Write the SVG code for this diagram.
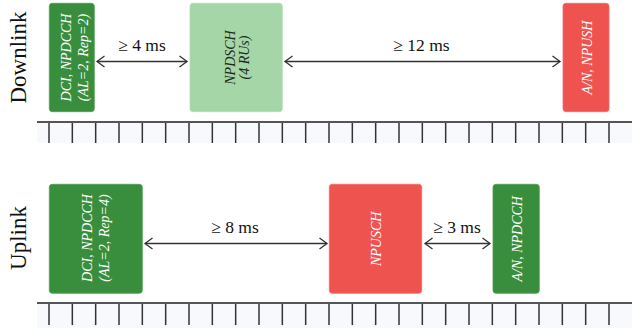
<svg xmlns="http://www.w3.org/2000/svg" width="632" height="328" viewBox="0 0 632 328">
  <defs>
    <style>
      .side { font-family: "Liberation Serif", "Times New Roman", serif; font-size: 23px; fill: #111; }
      .gap { font-family: "Liberation Serif", "Times New Roman", serif; font-size: 17.5px; fill: #111; text-anchor: middle; }
      .lbl { font-family: "Liberation Serif", "Times New Roman", serif; font-style: italic; font-size: 14px; text-anchor: middle; }
      .lbl-w { fill: #ffffff; }
      .lbl-d { fill: #1e2a1e; }
      .dark { fill: #388e3c; stroke: #4f9d52; stroke-width: 0.8; }
      .light { fill: #a5d6a7; stroke: #b3dcb4; stroke-width: 0.8; }
      .red { fill: #ef5350; stroke: #f26a67; stroke-width: 0.8; }
      .band { fill: #f7f9fd; }
      .axis { stroke: #555; stroke-width: 2; }
      .tick { stroke: #333; stroke-width: 1.5; }
      .conn { stroke: #333; stroke-width: 1.3; fill: none; marker-start: url(#chev); marker-end: url(#chev); }
    </style>
    <marker id="chev" markerUnits="userSpaceOnUse" viewBox="-9 -7 11 14" markerWidth="11" markerHeight="14" refX="0" refY="0" orient="auto-start-reverse">
      <path d="M -7.5 -5.5 L 0 0 L -7.5 5.5" fill="none" stroke="#333" stroke-width="1.3"/>
    </marker>
    <g id="ticks">
      <line class="tick" x1="49" y1="0" x2="49" y2="21"/>
      <line class="tick" x1="72.33" y1="0" x2="72.33" y2="21"/>
      <line class="tick" x1="95.67" y1="0" x2="95.67" y2="21"/>
      <line class="tick" x1="119" y1="0" x2="119" y2="21"/>
      <line class="tick" x1="142.33" y1="0" x2="142.33" y2="21"/>
      <line class="tick" x1="165.67" y1="0" x2="165.67" y2="21"/>
      <line class="tick" x1="189" y1="0" x2="189" y2="21"/>
      <line class="tick" x1="212.33" y1="0" x2="212.33" y2="21"/>
      <line class="tick" x1="235.67" y1="0" x2="235.67" y2="21"/>
      <line class="tick" x1="259" y1="0" x2="259" y2="21"/>
      <line class="tick" x1="282.33" y1="0" x2="282.33" y2="21"/>
      <line class="tick" x1="305.67" y1="0" x2="305.67" y2="21"/>
      <line class="tick" x1="329" y1="0" x2="329" y2="21"/>
      <line class="tick" x1="352.33" y1="0" x2="352.33" y2="21"/>
      <line class="tick" x1="375.67" y1="0" x2="375.67" y2="21"/>
      <line class="tick" x1="399" y1="0" x2="399" y2="21"/>
      <line class="tick" x1="422.33" y1="0" x2="422.33" y2="21"/>
      <line class="tick" x1="445.67" y1="0" x2="445.67" y2="21"/>
      <line class="tick" x1="469" y1="0" x2="469" y2="21"/>
      <line class="tick" x1="492.33" y1="0" x2="492.33" y2="21"/>
      <line class="tick" x1="515.67" y1="0" x2="515.67" y2="21"/>
      <line class="tick" x1="539" y1="0" x2="539" y2="21"/>
      <line class="tick" x1="562.33" y1="0" x2="562.33" y2="21"/>
      <line class="tick" x1="585.67" y1="0" x2="585.67" y2="21"/>
      <line class="tick" x1="609" y1="0" x2="609" y2="21"/>
    </g>
  </defs>

  <rect width="632" height="328" fill="#ffffff"/>

  <!-- lane titles -->
  <text class="side" transform="translate(25.5 57.5) rotate(-90)" text-anchor="middle">Downlink</text>
  <text class="side" transform="translate(25.5 238) rotate(-90)" text-anchor="middle">Uplink</text>

  <!-- downlink time axis -->
  <g id="axis-dl">
    <rect class="band" x="37" y="122" width="595" height="21"/>
    <use href="#ticks" transform="translate(0 122)"/>
    <line class="axis" x1="37" y1="122" x2="632" y2="122"/>
  </g>

  <!-- uplink time axis -->
  <g id="axis-ul">
    <rect class="band" x="37" y="303" width="595" height="25"/>
    <use href="#ticks" transform="translate(0 303) scale(1 1.05)"/>
    <line class="axis" x1="37" y1="303" x2="632" y2="303"/>
  </g>

  <!-- downlink nodes -->
  <g id="dl-dci">
    <rect class="dark" x="49.3" y="3.3" width="45" height="108.4" rx="3"/>
    <text class="lbl lbl-w" transform="translate(71 57.5) rotate(-90)">DCI, NPDCCH</text>
    <text class="lbl lbl-w" transform="translate(87.5 57.5) rotate(-90)">(AL=2, Rep=2)</text>
  </g>
  <g id="dl-npdsch">
    <rect class="light" x="190" y="3.3" width="92.3" height="108.4" rx="3"/>
    <text class="lbl lbl-d" transform="translate(235 57.5) rotate(-90)">NPDSCH</text>
    <text class="lbl lbl-d" transform="translate(248.5 57.5) rotate(-90)">(4 RUs)</text>
  </g>
  <g id="dl-ack">
    <rect class="red" x="563" y="3.3" width="46" height="108.4" rx="3"/>
    <text class="lbl lbl-w" transform="translate(591.5 57.5) rotate(-90)">A/N, NPUSH</text>
  </g>

  <!-- uplink nodes -->
  <g id="ul-dci">
    <rect class="dark" x="49.3" y="184.3" width="93" height="109" rx="3"/>
    <text class="lbl lbl-w" transform="translate(91.5 238) rotate(-90)">DCI, NPDCCH</text>
    <text class="lbl lbl-w" transform="translate(109 238) rotate(-90)">(AL=2, Rep=4)</text>
  </g>
  <g id="ul-npusch">
    <rect class="red" x="329.3" y="184.3" width="92.4" height="109" rx="3"/>
    <text class="lbl lbl-w" transform="translate(380.5 238.8) rotate(-90)">NPUSCH</text>
  </g>
  <g id="ul-ack">
    <rect class="dark" x="493" y="184.3" width="46.3" height="109" rx="3"/>
    <text class="lbl lbl-w" transform="translate(521.5 238.8) rotate(-90)">A/N, NPDCCH</text>
  </g>

  <!-- timing gaps -->
  <g id="connectors">
    <line class="conn" x1="97" y1="61.5" x2="187" y2="61.5"/>
    <line class="conn" x1="285" y1="61.5" x2="560" y2="61.5"/>
    <line class="conn" x1="145" y1="243.5" x2="327" y2="243.5"/>
    <line class="conn" x1="425" y1="243.5" x2="490" y2="243.5"/>
    <text class="gap" x="142" y="51">≥ 4 ms</text>
    <text class="gap" x="421.5" y="51">≥ 12 ms</text>
    <text class="gap" x="235" y="233">≥ 8 ms</text>
    <text class="gap" x="457" y="233">≥ 3 ms</text>
  </g>
</svg>
